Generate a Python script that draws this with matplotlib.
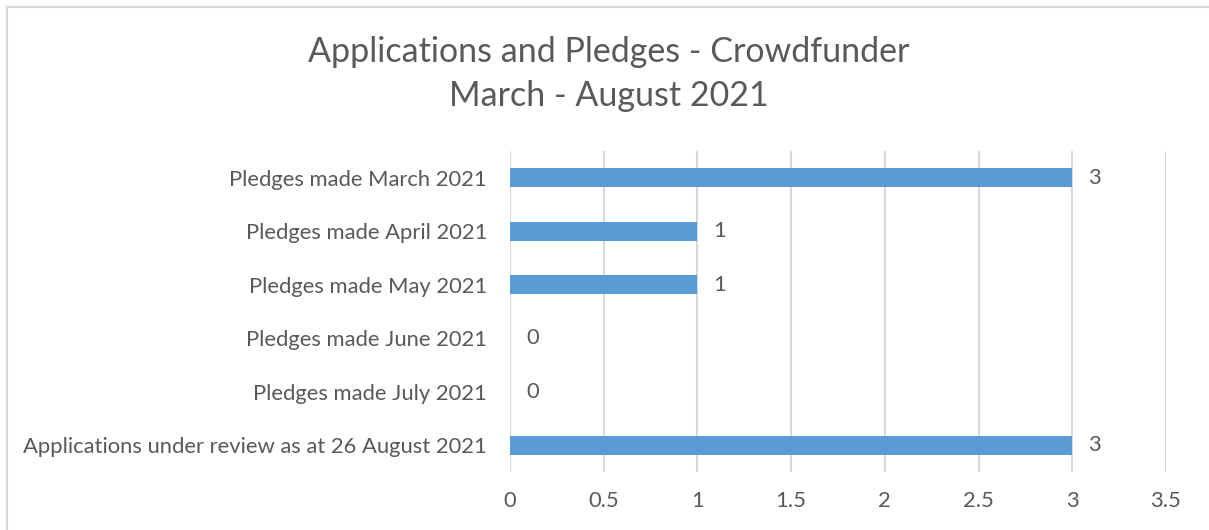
import matplotlib
matplotlib.use("Agg")
import matplotlib.pyplot as plt
from matplotlib.lines import Line2D

categories = [
    "Pledges made March 2021",
    "Pledges made April 2021",
    "Pledges made May 2021",
    "Pledges made June 2021",
    "Pledges made July 2021",
    "Applications under review as at 26 August 2021",
]
values = [3, 1, 1, 0, 0, 3]
xticks = [0, 0.5, 1, 1.5, 2, 2.5, 3, 3.5]
xtick_labels = ["0", "0.5", "1", "1.5", "2", "2.5", "3", "3.5"]

TEXT = "#595959"
GRID = "#d9d9d9"
BAR = "#5b9bd5"

plt.rcParams['font.family'] = ['Lato', 'DejaVu Sans']

W, H = 1209, 530
fig = plt.figure(figsize=(W / 100, H / 100), dpi=100)
ax = fig.add_axes([510 / W, 1 - 472 / H, (1166 - 510) / W, (472 - 151) / H])

FS = 15.8
n = len(categories)
ypos = list(range(n))
ax.barh(ypos, values, height=0.355, color=BAR, zorder=3)
ax.set_ylim(n - 0.5, -0.5)
ax.set_xlim(0, 3.5)
ax.set_yticks(ypos)
ax.set_yticklabels(categories, fontsize=FS, color=TEXT)
ax.set_xticks(xticks)
ax.set_xticklabels(xtick_labels, fontsize=FS, color=TEXT)
ax.tick_params(axis='y', length=0, pad=16.5)
ax.tick_params(axis='x', length=0, pad=14)
for s in ax.spines.values():
    s.set_visible(False)
ax.xaxis.grid(True, color=GRID, linewidth=1.5, zorder=0)
ax.yaxis.grid(False)

for y, v in zip(ypos, values):
    ax.annotate(str(v), xy=(v, y), xytext=(16, 0), textcoords='offset pixels',
                ha='left', va='center', fontsize=FS, color=TEXT)

fig.text(0.5 * (307 + 911) / W, 1 - 74 / H, "Applications and Pledges - Crowdfunder\nMarch - August 2021",
         ha='center', va='center', fontsize=24.5, color=TEXT, linespacing=1.45)

# chart frame (left and top edges visible)
fig.add_artist(Line2D([7 / W, 7 / W], [0, 1 - 7 / H], transform=fig.transFigure, color=GRID, linewidth=1.5))
fig.add_artist(Line2D([7 / W, 1], [1 - 7 / H, 1 - 7 / H], transform=fig.transFigure, color=GRID, linewidth=1.5))

fig.savefig("out.png", dpi=100)
